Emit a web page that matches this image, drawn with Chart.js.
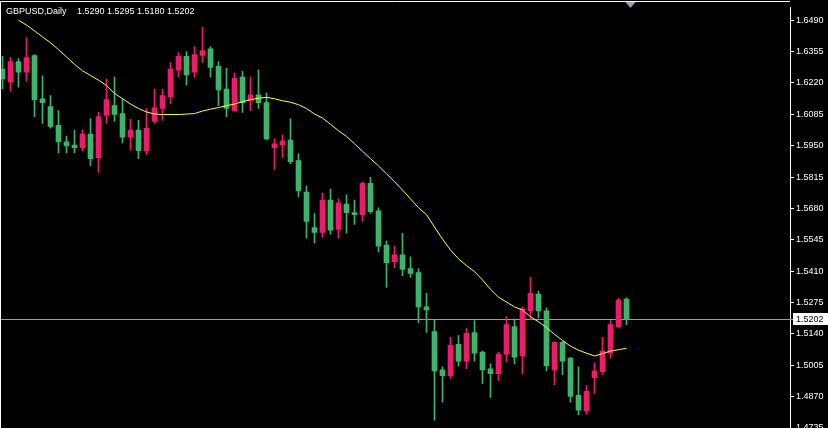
<!DOCTYPE html>
<html>
<head>
<meta charset="utf-8">
<script src="https://cdn.jsdelivr.net/npm/chart.js@4.4.1/dist/chart.umd.min.js"></script>
<style>
  html, body { margin: 0; padding: 0; background: #000; overflow: hidden; }
  canvas { display: block; }
</style>
</head>
<body>
<canvas id="chart" width="828" height="445"></canvas>
<script>
// GBPUSD daily candles
const symbol = 'GBPUSD';
const period = 'Daily';

const opens = [
  1.6279, 1.6224, 1.6312, 1.6266, 1.6338, 1.6152, 1.6118, 1.6038, 1.5966, 1.5953,
  1.5941, 1.6000, 1.5898, 1.6080, 1.6122, 1.6088, 1.5987, 1.6017, 1.5928, 1.6054,
  1.6110, 1.6160, 1.6275, 1.6334, 1.6266, 1.6338, 1.6367, 1.6291, 1.6194, 1.6101,
  1.6245, 1.6143, 1.6169, 1.6135, 1.5941, 1.5953, 1.5974, 1.5886, 1.5750, 1.5598,
  1.5577, 1.5716, 1.5590, 1.5699, 1.5662, 1.5653, 1.5788, 1.5670, 1.5522, 1.5451,
  1.5480, 1.5421, 1.5404, 1.5256, 1.5150, 1.4985, 1.4960, 1.5095, 1.5023, 1.5146,
  1.5062, 1.4990, 1.4969, 1.5053, 1.5171, 1.5045, 1.5239, 1.5311, 1.5239, 1.4985,
  1.5104, 1.5036, 1.4876, 1.4808, 1.4952, 1.4977, 1.5057, 1.5171, 1.5290
];
const highs = [
  1.6334, 1.6329, 1.6325, 1.6414, 1.6342, 1.6250, 1.6165, 1.6101, 1.5991, 1.6017,
  1.6017, 1.6067, 1.6093, 1.6237, 1.6245, 1.6152, 1.6063, 1.6059, 1.6110, 1.6194,
  1.6194, 1.6308, 1.6351, 1.6355, 1.6376, 1.6460, 1.6376, 1.6312, 1.6283, 1.6262,
  1.6270, 1.6245, 1.6275, 1.6177, 1.5979, 1.5996, 1.6067, 1.5915, 1.5776, 1.5658,
  1.5746, 1.5763, 1.5721, 1.5738, 1.5716, 1.5793, 1.5814, 1.5683, 1.5539, 1.5518,
  1.5573, 1.5472, 1.5421, 1.5315, 1.5201, 1.4998, 1.5125, 1.5133, 1.5163, 1.5197,
  1.5066, 1.5011, 1.5062, 1.5214, 1.5205, 1.5256, 1.5383, 1.5324, 1.5252, 1.5106,
  1.5108, 1.5038, 1.4998, 1.4918, 1.5015, 1.5125, 1.5197, 1.5294, 1.5295
];
const lows = [
  1.6194, 1.6185, 1.6202, 1.6228, 1.6075, 1.6046, 1.6025, 1.5919, 1.5919, 1.5919,
  1.5928, 1.5864, 1.5835, 1.6046, 1.6054, 1.5962, 1.5932, 1.5894, 1.5911, 1.6046,
  1.6059, 1.6131, 1.6245, 1.6211, 1.6245, 1.6308, 1.6245, 1.6122, 1.6075, 1.6097,
  1.6093, 1.6101, 1.6110, 1.5975, 1.5848, 1.5898, 1.5873, 1.5729, 1.5552, 1.5531,
  1.5556, 1.5569, 1.5552, 1.5573, 1.5611, 1.5624, 1.5658, 1.5493, 1.5340, 1.5425,
  1.5391, 1.5383, 1.5188, 1.5146, 1.4769, 1.4846, 1.4947, 1.5002, 1.4990, 1.5023,
  1.4926, 1.4867, 1.4939, 1.5019, 1.5011, 1.4969, 1.5201, 1.5209, 1.4981, 1.4922,
  1.4964, 1.4846, 1.4791, 1.4795, 1.4884, 1.4964, 1.5036, 1.5167, 1.5180
];
const closes = [
  1.6237, 1.6312, 1.6266, 1.6329, 1.6148, 1.6135, 1.6033, 1.5966, 1.5949, 1.5941,
  1.6000, 1.5894, 1.6075, 1.6148, 1.6084, 1.5987, 1.6017, 1.5928, 1.6025, 1.6114,
  1.6165, 1.6279, 1.6334, 1.6254, 1.6342, 1.6359, 1.6287, 1.6190, 1.6110, 1.6241,
  1.6135, 1.6169, 1.6135, 1.5979, 1.5958, 1.5970, 1.5881, 1.5755, 1.5624, 1.5577,
  1.5716, 1.5586, 1.5704, 1.5662, 1.5653, 1.5788, 1.5666, 1.5518, 1.5446, 1.5480,
  1.5417, 1.5400, 1.5256, 1.5243, 1.4981, 1.4960, 1.5091, 1.5023, 1.5142, 1.5057,
  1.4985, 1.4969, 1.5053, 1.5180, 1.5040, 1.5248, 1.5315, 1.5239, 1.5002, 1.5104,
  1.5023, 1.4871, 1.4812, 1.4893, 1.4981, 1.5066, 1.5180, 1.5285, 1.5202
];
// moving average (yellow line)
const maValues = [
  null, null, 1.6490, 1.6469, 1.6444, 1.6418, 1.6393, 1.6363, 1.6332, 1.6300,
  1.6272, 1.6252, 1.6232, 1.6209, 1.6175, 1.6152, 1.6129, 1.6110, 1.6095, 1.6086,
  1.6084, 1.6084, 1.6084, 1.6086, 1.6088, 1.6099, 1.6107, 1.6114, 1.6122, 1.6129,
  1.6139, 1.6148, 1.6154, 1.6158, 1.6152, 1.6143, 1.6137, 1.6126, 1.6110, 1.6086,
  1.6069, 1.6042, 1.6014, 1.5990, 1.5958, 1.5926, 1.5894, 1.5863, 1.5829, 1.5795,
  1.5759, 1.5721, 1.5683, 1.5653, 1.5600, 1.5548, 1.5501, 1.5463, 1.5434, 1.5408,
  1.5372, 1.5332, 1.5298, 1.5277, 1.5256, 1.5243, 1.5214, 1.5192, 1.5167, 1.5138,
  1.5112, 1.5087, 1.5070, 1.5057, 1.5045, 1.5055, 1.5066, 1.5072, 1.5078
];
// price axis labels
const priceTicks = [
  1.4735, 1.4870, 1.5005, 1.5140, 1.5275, 1.5410, 1.5545,
  1.5680, 1.5815, 1.5950, 1.6085, 1.6220, 1.6355, 1.6490
];

const upColor = '#ee1b6d';
const downColor = '#3cb46a';
const labelFont = '"Liberation Sans", Arial, sans-serif';

const idx = opens.map((_, i) => i);
const lastClose = closes[closes.length - 1];
const candleColors = idx.map(i => closes[i] < opens[i] ? downColor : upColor);

const mtPlugin = {
  id: 'mtLook',
  beforeDraw(chart) {
    const ctx = chart.ctx;
    ctx.save();
    ctx.fillStyle = '#000';
    ctx.fillRect(0, 0, chart.width, chart.height);
    ctx.restore();
  },
  beforeDatasetsDraw(chart) {
    // bid line, behind the candles
    const { ctx, chartArea, scales } = chart;
    const y = Math.floor(scales.y.getPixelForValue(lastClose)) + 0.5;
    ctx.save();
    ctx.strokeStyle = '#9c9ca8';
    ctx.lineWidth = 1;
    ctx.beginPath();
    ctx.moveTo(chartArea.left, y);
    ctx.lineTo(chartArea.right + 3, y);
    ctx.stroke();
    ctx.restore();
  },
  afterDraw(chart) {
    const { ctx, chartArea, scales } = chart;
    ctx.save();
    // frame left + top
    ctx.strokeStyle = '#fff';
    ctx.lineWidth = 1;
    ctx.beginPath();
    ctx.moveTo(0.5, chart.height);
    ctx.lineTo(0.5, 1.5);
    ctx.lineTo(chartArea.right, 1.5);
    ctx.stroke();

    // shift marker
    const sx = scales.x.getPixelForValue(opens.length - 0.5);
    ctx.fillStyle = '#a0a0a8';
    ctx.beginPath();
    ctx.moveTo(sx - 5, 2);
    ctx.lineTo(sx + 5, 2);
    ctx.lineTo(sx, 8);
    ctx.closePath();
    ctx.fill();

    // bid price box
    const py = Math.floor(scales.y.getPixelForValue(lastClose)) + 0.5;
    ctx.fillStyle = '#fff';
    ctx.fillRect(chartArea.right + 3, py - 6.5, 35, 12);
    ctx.fillStyle = '#000';
    ctx.font = '9px ' + labelFont;
    ctx.textBaseline = 'middle';
    ctx.fillText(lastClose.toFixed(4), chartArea.right + 6, py);

    // title
    const n = closes.length - 1;
    ctx.fillStyle = '#fff';
    ctx.textBaseline = 'alphabetic';
    ctx.fillText(symbol + ',' + period, 6, 14);
    ctx.fillText([opens[n], highs[n], lows[n], closes[n]].map(v => v.toFixed(4)).join(' '), 77, 14);
    ctx.restore();
  }
};

new Chart(document.getElementById('chart'), {
  type: 'bar',
  data: {
    datasets: [
      {
        type: 'line',
        data: idx.map(i => ({ x: i, y: maValues[i] })),
        borderColor: '#ffff40',
        borderWidth: 1,
        pointRadius: 0,
        tension: 0,
        spanGaps: false
      },
      {
        data: idx.map(i => ({ x: i, y: [opens[i], closes[i]] })),
        backgroundColor: candleColors,
        borderWidth: 0,
        barThickness: 5,
        minBarLength: 1,
        grouped: false
      },
      {
        data: idx.map(i => ({ x: i, y: [lows[i], highs[i]] })),
        backgroundColor: candleColors,
        borderWidth: 0,
        barThickness: 1,
        grouped: false
      }
    ]
  },
  options: {
    responsive: false,
    devicePixelRatio: 1,
    animation: false,
    layout: { padding: { left: 1, top: 2, right: 0, bottom: 5 } },
    plugins: { legend: { display: false }, tooltip: { enabled: false } },
    scales: {
      x: {
        type: 'linear',
        display: false,
        offset: false,
        min: -0.1875,
        max: 98.4375
      },
      y: {
        position: 'right',
        min: 1.469372,
        max: 1.654495,
        afterFit: s => { s.width = 38; },
        afterBuildTicks: s => { s.ticks = priceTicks.map(v => ({ value: v })); },
        border: { display: true, color: '#fff', width: 1 },
        grid: { drawOnChartArea: false, drawTicks: true, tickLength: 4, color: '#fff' },
        ticks: {
          color: '#fff',
          font: { family: labelFont, size: 9 },
          padding: 2,
          autoSkip: false,
          callback: v => Number(v).toFixed(4)
        }
      }
    }
  },
  plugins: [mtPlugin]
});
</script>
</body>
</html>
